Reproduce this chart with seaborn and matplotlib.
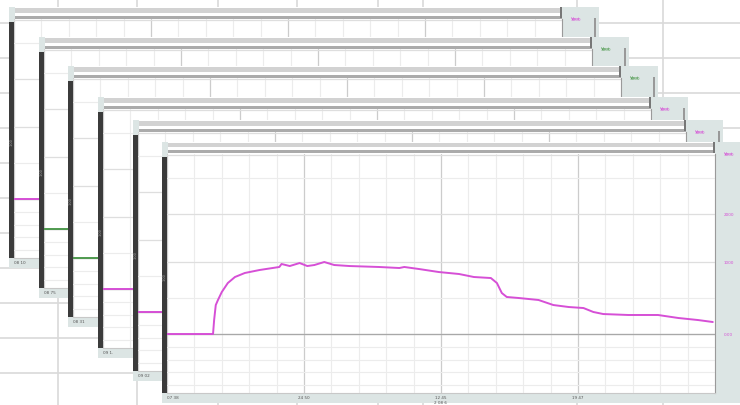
import seaborn as sns
import matplotlib.pyplot as plt
from matplotlib.patches import Rectangle

# trace shown in the front window (time in min, signal level)
t_main = [0, 8.4, 8.6, 8.9, 9.3, 10.0, 11.1, 12.4, 14.2, 16.9, 20.5, 20.9, 22.4,
          24.2, 25.6, 26.9, 28.7, 30.5, 33.3, 38.7, 42.4, 43.3, 46.0, 49.6, 53.3,
          56.0, 59.1, 60.2, 61.1, 62.0, 64.2, 67.8, 70.5, 73.3, 76.0, 77.8, 79.6,
          84.2, 89.6, 93.3, 96.9, 99.6]
v_main = [0, 0, 233, 483, 567, 700, 850, 950, 1017, 1067, 1117, 1167, 1133,
          1183, 1133, 1150, 1200, 1150, 1133, 1117, 1100, 1117, 1083, 1033, 1000,
          950, 933, 850, 683, 617, 600, 567, 483, 450, 433, 367, 333,
          317, 317, 267, 233, 200]

# back windows: only the start of each trace is visible
t_back = [0, 30]
v_back = [0, 0]

window_colors = ['#d64fd6', '#4f9a4f', '#4f9a4f', '#d64fd6', '#d64fd6', '#d64fd6']
window_names = ['Vout', 'Vout', 'Vout', 'Vout', 'Vout', 'Vout']
start_labels = ['08 10', '08 75', '08 31', '09 1.', '09 02', '07 38']

time_ticks = [0, 25, 50, 75]
time_labels = ['07 38', '24 50', '12 45\n2 08 6', '19 47']
level_ticks = [0, 1200, 2000, 2990]
level_labels = ['0.00', '1000', '2000', '3000']
level_minor = [-850, -630, -430, -220, 600, 2600]

# layout (pixels)
FW, FH = 740, 405
WIN_W, WIN_H = 590, 261
origins = [(9, 7), (39, 37), (68, 66), (98, 97), (133, 120), (162, 142)]
sheet_rows = [23, 58, 93, 128, 163, 198, 233, 268, 303, 338, 373]
sheet_cols = [58, 137, 218, 297, 378, 423, 577, 663]

MINT = '#dce5e4'

sns.set_style('white')
plt.rcParams['font.family'] = ['DejaVu Sans']

fig = plt.figure(figsize=(FW / 100, FH / 100), dpi=100)


def frac(x, y, w, h):
    return [x / FW, 1 - (y + h) / FH, w / FW, h / FH]


# spreadsheet behind the windows
bg = fig.add_axes([0, 0, 1, 1], zorder=0)
bg.set_xlim(0, FW)
bg.set_ylim(FH, 0)
bg.axis('off')
for r in sheet_rows:
    bg.axhline(r, color='#d9d9d9', lw=1.2)
for c in sheet_cols:
    bg.axvline(c, color='#d9d9d9', lw=1.2)

for i, (ox, oy) in enumerate(origins):
    col = window_colors[i]

    # window chrome
    ch = fig.add_axes(frac(ox, oy, WIN_W, WIN_H), zorder=2 * i + 1)
    ch.set_xlim(0, WIN_W)
    ch.set_ylim(WIN_H, 0)
    ch.axis('off')
    ch.add_patch(Rectangle((0, 0), WIN_W, WIN_H, color=MINT, lw=0))
    ch.add_patch(Rectangle((6, 0), 547, 12, color='white', lw=0))
    ch.add_patch(Rectangle((6, 1), 547, 4.5, color='#d2d2d2', lw=0))
    ch.add_patch(Rectangle((6, 8.5), 547, 3, color='#ababab', lw=0))
    ch.add_patch(Rectangle((551, 0), 2, 11, color='#777777', lw=0))
    ch.add_patch(Rectangle((0, 15), 5, 236, color='#3b3b3b', lw=0))
    ch.add_patch(Rectangle((585, 11), 2, 240, color='#999999', lw=0))
    ch.text(562, 12, window_names[i], color=col, fontsize=3, va='center')
    ch.text(2.5, 135, '1.00', color='#a8a8a8', fontsize=2.5, rotation=90,
            ha='center', va='center')

    # plot area
    ax = fig.add_axes(frac(ox + 5, oy + 12, 548, 239), zorder=2 * i + 2)
    ax.set_facecolor('white')
    if i == len(origins) - 1:
        sns.lineplot(x=t_main, y=v_main, ax=ax, color=col, linewidth=1.4)
    else:
        sns.lineplot(x=t_back, y=v_back, ax=ax, color=col, linewidth=1.4)
    ax.set_xlim(0, 100)
    ax.set_ylim(-983, 3000)
    ax.set_xlabel('')
    ax.set_ylabel('')

    ax.set_xticks(range(0, 101, 5), minor=True)
    ax.set_xticks(time_ticks)
    labels = [start_labels[i]] + time_labels[1:]
    ax.set_xticklabels(labels)
    ax.get_xticklabels()[0].set_ha('left')
    ax.set_yticks(level_minor, minor=True)
    ax.set_yticks(level_ticks)
    ax.set_yticklabels(level_labels)
    ax.yaxis.tick_right()

    ax.grid(which='minor', color='#ececec', lw=0.8)
    ax.grid(which='major', axis='x', color='#cccccc', lw=0.9)
    ax.grid(which='major', axis='y', color='#dedede', lw=0.9)
    ax.axhline(0, color='#a8a8a8', lw=0.9, zorder=1)

    ax.tick_params(axis='x', which='both', length=0, pad=2.5, labelsize=3,
                   labelcolor='#555555')
    ax.tick_params(axis='y', which='both', length=0, pad=6, labelsize=3,
                   labelcolor=col)
    for s in ['top', 'left']:
        ax.spines[s].set_visible(False)
    ax.spines['right'].set_color('#9a9a9a')
    ax.spines['bottom'].set_color('#c8c8c8')

fig.savefig('out.png', dpi=100)
